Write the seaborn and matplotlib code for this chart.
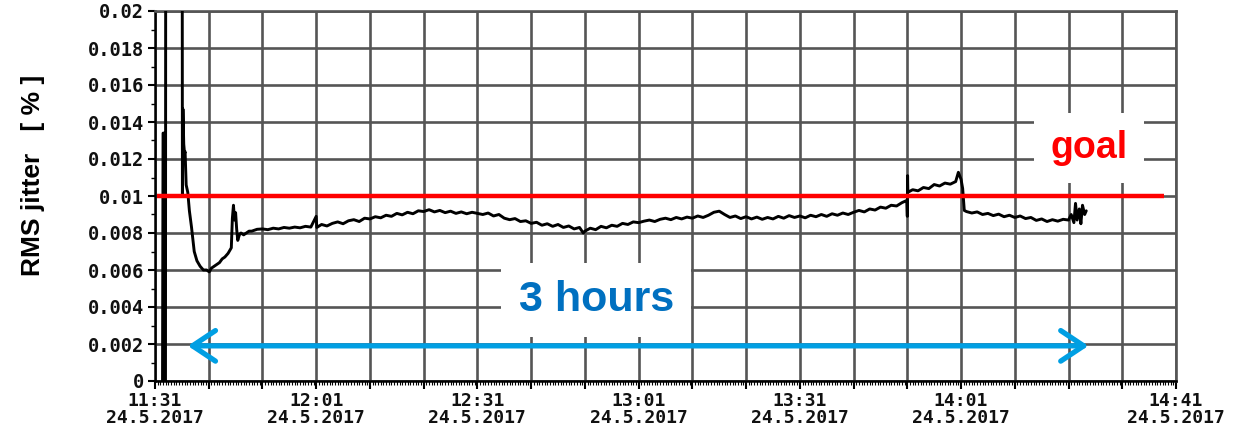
import matplotlib
matplotlib.use("Agg")
import matplotlib.pyplot as plt
import numpy as np
import pandas as pd
import seaborn as sns

# ---- data -------------------------------------------------------------
# elapsed minutes since 11:31 on 24.5.2017 and measured RMS jitter in %
startup_min = [1.4, 1.5, 1.7, 1.75, 1.95, 2.0, 5.05, 5.1, 5.2, 5.35, 5.5, 5.6,
               5.8, 6.1, 6.4, 6.8, 7.3, 7.8, 8.4, 9.0, 9.6, 10.1, 10.5, 11.0,
               11.5, 12.0, 12.5, 13.0, 13.6, 14.0, 14.2, 14.4, 14.6, 14.8,
               15.0, 15.2, 15.4, 15.7, 16.0, 16.5, 17.0, 17.5, 18.0, 19.0]
startup_val = [0.0, 0.0134, 0.0134, 0.0, 0.0, 0.03, 0.03, 0.0100, 0.0147,
               0.0128, 0.0123, 0.0124, 0.0106, 0.0102, 0.0092, 0.0083, 0.0070,
               0.0065, 0.0062, 0.0060, 0.0060, 0.0059, 0.0061, 0.0062, 0.0063,
               0.0064, 0.0066, 0.0067, 0.0069, 0.0071, 0.0072, 0.0088, 0.0095,
               0.0087, 0.0091, 0.0082, 0.0076, 0.0079, 0.0080, 0.0079, 0.0080,
               0.0081, 0.0081, 0.0082]

run_min = [20, 21, 22, 23, 24, 25, 26, 27, 28, 29, 30.0, 30.1, 31, 32, 33, 34,
           35, 36, 37, 38, 39, 40, 41, 42, 43, 44, 45, 46, 47, 48, 49, 50, 51,
           52, 53, 54, 55, 56, 57, 58, 59, 60, 61, 62, 63, 64, 65, 66, 67, 68,
           69, 70, 71, 72, 73, 74, 75, 76, 77, 78, 79, 79.7, 80, 81, 82, 83,
           84, 85, 86, 87, 88, 89, 90, 91, 92, 93, 94, 95, 96, 97, 98, 99, 100,
           101, 102, 103, 104, 105, 106, 107, 108, 109, 110, 111, 112, 113,
           114, 115, 116, 117, 118, 119, 120, 121, 122, 123, 124, 125, 126,
           127, 128, 129, 130, 131, 132, 133, 134, 135, 136, 137, 138, 139,
           139.9, 140.0, 140.05, 140.1, 141, 142, 143, 144, 145, 146, 147, 148,
           149, 149.5, 150.0, 150.3, 150.6, 151, 152, 153, 154, 155, 156, 157,
           158, 159, 160, 161, 162, 163, 164, 165, 166, 167, 168, 169, 170,
           170.5, 171, 171.3, 171.6, 172, 172.3, 172.6, 173, 173.3]
run_val = [0.00822, 0.00818, 0.00826, 0.00822, 0.00830, 0.00826, 0.00832,
           0.00828, 0.00836, 0.00832, 0.00890, 0.00830, 0.00846, 0.00838,
           0.00852, 0.00860, 0.00850, 0.00866, 0.00872, 0.00862, 0.00880,
           0.00876, 0.00888, 0.00882, 0.00896, 0.00890, 0.00906, 0.00898,
           0.00912, 0.00904, 0.00920, 0.00916, 0.00926, 0.00914, 0.00922,
           0.00910, 0.00918, 0.00906, 0.00914, 0.00904, 0.00912, 0.00906,
           0.00900, 0.00908, 0.00892, 0.00900, 0.00880, 0.00872, 0.00878,
           0.00862, 0.00866, 0.00852, 0.00858, 0.00842, 0.00850, 0.00836,
           0.00846, 0.00830, 0.00838, 0.00822, 0.00830, 0.00800, 0.00810,
           0.00826, 0.00818, 0.00836, 0.00828, 0.00842, 0.00836, 0.00852,
           0.00846, 0.00860, 0.00856, 0.00864, 0.00870, 0.00862, 0.00874,
           0.00880, 0.00872, 0.00884, 0.00876, 0.00886, 0.00880, 0.00892,
           0.00884, 0.00896, 0.00912, 0.00918, 0.00900, 0.00884, 0.00892,
           0.00878, 0.00888, 0.00876, 0.00886, 0.00874, 0.00884, 0.00876,
           0.00890, 0.00880, 0.00894, 0.00884, 0.00892, 0.00882, 0.00896,
           0.00888, 0.00900, 0.00890, 0.00904, 0.00896, 0.00908, 0.00900,
           0.00912, 0.00922, 0.00914, 0.00930, 0.00924, 0.00940, 0.00934,
           0.00950, 0.00946, 0.00964, 0.00976, 0.00890, 0.01110, 0.01020,
           0.01034, 0.01028, 0.01046, 0.01040, 0.01062, 0.01054, 0.01070,
           0.01064, 0.01078, 0.01128, 0.01090, 0.01040, 0.00922, 0.00916,
           0.00908, 0.00914, 0.00900, 0.00906, 0.00894, 0.00902, 0.00888,
           0.00896, 0.00884, 0.00892, 0.00878, 0.00884, 0.00868, 0.00876,
           0.00862, 0.00872, 0.00864, 0.00874, 0.00870, 0.00900, 0.00856,
           0.00960, 0.00870, 0.00930, 0.00850, 0.00950, 0.00900, 0.00920]

goal_value = 0.01
goal_span = (0.4, 187.8)          # minutes covered by the goal line
duration_span = (6.1, 173.7)      # minutes covered by the "3 hours" arrow
duration_level = 0.0019

tick_minutes = [0, 30, 60, 90, 120, 150, 190]
tick_times = ["11:31", "12:01", "12:31", "13:01", "13:31", "14:01", "14:41"]
tick_date = "24.5.2017"
y_ticks = [0, 0.002, 0.004, 0.006, 0.008, 0.01, 0.012, 0.014, 0.016, 0.018, 0.02]
y_labels = ["0", "0.002", "0.004", "0.006", "0.008", "0.01", "0.012", "0.014",
            "0.016", "0.018", "0.02"]

df = pd.DataFrame({"minute": startup_min + run_min,
                   "jitter": startup_val + run_val})

# ---- figure -----------------------------------------------------------
sns.set_theme(style="white")
plt.rcParams["font.family"] = ["Liberation Sans", "DejaVu Sans"]

W, H = 1237, 428
fig = plt.figure(figsize=(W / 100, H / 100), dpi=100)
ax = fig.add_axes([155 / W, 1 - 381 / H, (1176 - 155) / W, 370 / H])

grid_col = "#555555"
ax.set_xlim(0, 190)
ax.set_ylim(0, 0.02)
ax.set_axisbelow(True)

# major grid every 10 min / 0.002, fine minor ticks
ax.set_xticks(np.arange(0, 191, 10))
ax.set_xticks(np.arange(0, 190.01, 0.5), minor=True)
xlabels = []
for m in np.arange(0, 191, 10):
    if m in tick_minutes:
        xlabels.append(f"{tick_times[tick_minutes.index(m)]}\n{tick_date}")
    else:
        xlabels.append("")
ax.set_xticklabels(xlabels, fontfamily="DejaVu Sans Mono", fontweight="bold",
                   fontsize=13, linespacing=0.9, color="#111111")
ax.set_yticks(y_ticks)
ax.set_yticks(np.arange(0, 0.0201, 0.001), minor=True)
ax.set_yticklabels(y_labels, fontfamily="DejaVu Sans Mono", fontweight="bold",
                   fontsize=13.5, color="#111111")

ax.grid(True, which="major", color=grid_col, lw=1.9)
ax.tick_params(axis="x", which="major", direction="out", length=6, width=1.5,
               color="black", pad=2, bottom=True)
ax.tick_params(axis="x", which="minor", direction="out", length=3, width=0.8,
               color="black", bottom=True)
ax.tick_params(axis="y", which="major", direction="out", length=5, width=1.5,
               color="black", pad=3, left=True)
ax.tick_params(axis="y", which="minor", direction="out", length=3, width=1.0,
               color="black", left=True)

for side in ("left", "bottom"):
    ax.spines[side].set_color("black")
    ax.spines[side].set_linewidth(1.8)
for side in ("top", "right"):
    ax.spines[side].set_color(grid_col)
    ax.spines[side].set_linewidth(1.9)

# measured trace
sns.lineplot(data=df, x="minute", y="jitter", ax=ax, color="black", lw=2.1,
             estimator=None, sort=False, zorder=3)

# goal line and label
ax.hlines(goal_value, *goal_span, color="#ff0000", lw=3.2, zorder=4)
ax.text(173.8, 0.0126, "goal", color="#ff0000", fontsize=27,
        fontweight="bold", ha="center", va="center", zorder=5,
        bbox=dict(boxstyle="square,pad=0.45", fc="white", ec="none"))

# duration arrow and label
ax.annotate("", xy=(duration_span[0], duration_level),
            xytext=(duration_span[1], duration_level),
            arrowprops=dict(arrowstyle="<->,head_length=0.75,head_width=0.5",
                            lw=3.8, color="#009fe3", mutation_scale=22,
                            shrinkA=0, shrinkB=0, joinstyle="round",
                            capstyle="round"),
            zorder=5)
ax.text(82.1, 0.00438, "3 hours", color="#0070c0", fontsize=31,
        fontweight="bold", ha="center", va="center", zorder=5,
        bbox=dict(boxstyle="square,pad=0.4", fc="white", ec="none"))

ax.set_xlabel("")
ax.set_ylabel("RMS jitter   [ % ]", fontsize=19, fontweight="bold",
              color="black")
ax.yaxis.set_label_coords(-0.108, 0.557)

fig.savefig("out.png", dpi=100, facecolor="white")
